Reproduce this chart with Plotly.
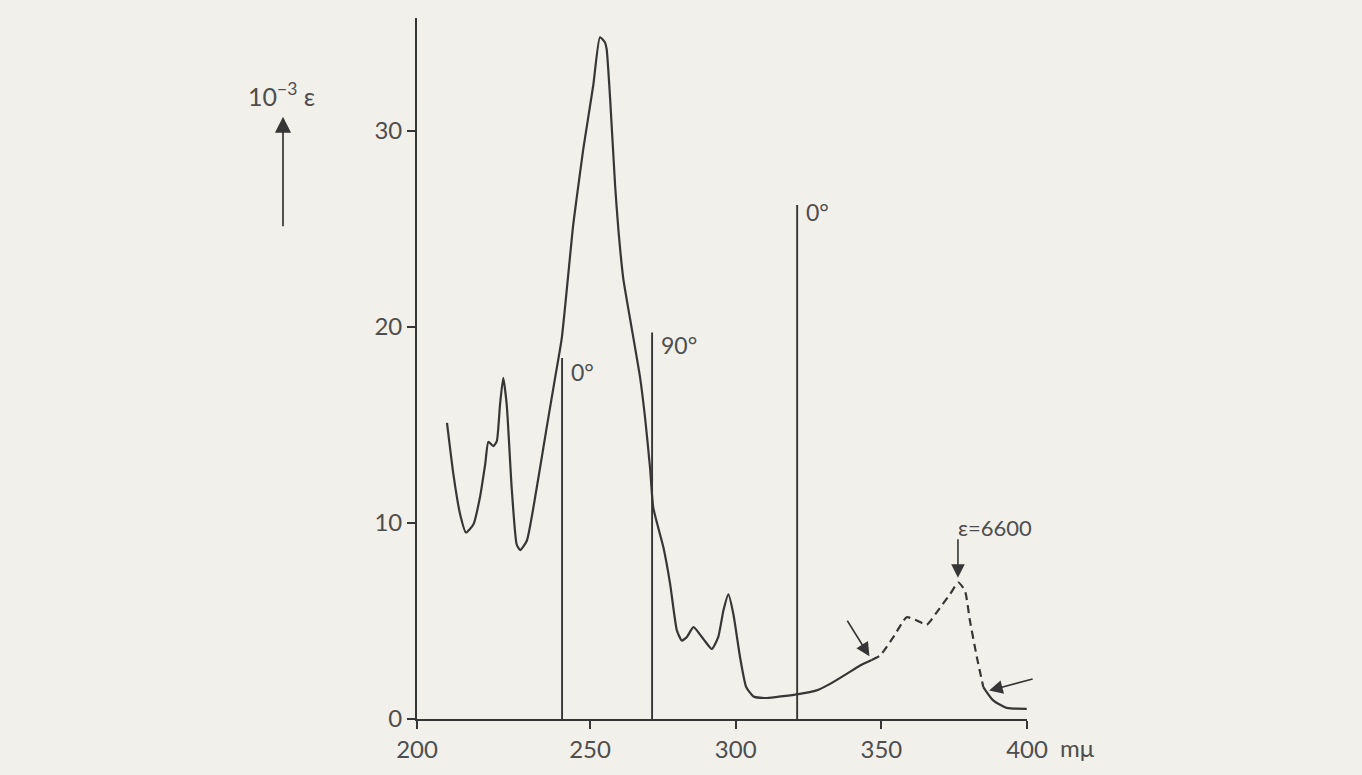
import plotly.graph_objects as go

# ---- data ----
# wavelength in m-mu, epsilon in units of 10^3
wl_main = [200.9, 203.1, 205.4, 207.4, 210.0, 212.2, 214.0, 215.1, 216.8, 218.0,
           219.1, 220.2, 221.4, 223.1, 224.8, 226.0, 228.3, 231.7, 235.1, 238.0,
           240.3, 244.2, 245.4, 247.7, 251.1, 253.4, 255.1, 255.7, 256.9, 258.6,
           259.7, 261.4, 264.3, 267.2, 268.9, 270.6, 271.7, 275.2, 277.5, 279.8,
           281.5, 283.2, 285.5, 288.9, 291.8, 294.0, 295.8, 297.5, 299.2, 301.5,
           303.6, 306.1, 310.7, 316.4, 321.0, 327.8, 332.4, 338.1, 342.7, 346.7]
eps_main = [15.10, 12.47, 10.44, 9.51, 9.93, 11.29, 12.98, 14.13, 13.91, 14.17,
            16.03, 17.39, 16.03, 11.79, 8.91, 8.61, 9.09, 11.79, 14.84, 17.39,
            19.42, 25.17, 26.54, 29.08, 32.30, 34.76, 34.50, 34.16, 31.62, 27.21,
            25.01, 22.47, 19.93, 17.39, 15.35, 12.81, 10.78, 8.74, 6.88, 4.52,
            4.00, 4.17, 4.68, 4.08, 3.57, 4.17, 5.54, 6.35, 5.35, 3.15,
            1.63, 1.15, 1.07, 1.17, 1.26, 1.46, 1.79, 2.30, 2.73, 3.01]

wl_dash = [346.7, 349.6, 354.1, 358.7, 362.2, 365.6, 369.0, 373.6, 376.4, 378.7,
           380.4, 382.8, 385.0]
eps_dash = [3.01, 3.24, 4.17, 5.19, 5.02, 4.81, 5.44, 6.37, 6.96, 6.54,
            5.02, 3.15, 1.63]

wl_tail = [385.0, 388.4, 393.0, 399.9]
eps_tail = [1.63, 0.95, 0.57, 0.52]

# polarisation reference lines
angle_x = [240.4, 271.3, 321.1]
angle_h = [18.4, 19.7, 26.2]
angle_lbl = ["0°", "90°", "0°"]

x_tickvals = [190.6, 250, 300, 350, 400]
x_ticktext = ["200", "250", "300", "350", "400"]
y_tickvals = [0, 10, 20, 30]
y_ticktext = ["0", "10", "20", "30"]

INK = "#363636"
TXT = "#4e4e4e"
BG = "#f2f0ea"
FONT = "Lato"

fig = go.Figure()

fig.add_trace(go.Scatter(x=wl_main, y=eps_main, mode="lines",
                         line=dict(color=INK, width=2.2, shape="spline", smoothing=0.5),
                         hoverinfo="skip", showlegend=False))
fig.add_trace(go.Scatter(x=wl_dash, y=eps_dash, mode="lines",
                         line=dict(color=INK, width=2.2, dash="8px,5px", shape="spline", smoothing=0.5),
                         hoverinfo="skip", showlegend=False))
fig.add_trace(go.Scatter(x=wl_tail, y=eps_tail, mode="lines",
                         line=dict(color=INK, width=2.2, shape="spline", smoothing=0.6),
                         hoverinfo="skip", showlegend=False))

vx, vy = [], []
for x, h in zip(angle_x, angle_h):
    vx += [x, x, None]
    vy += [0, h, None]
fig.add_trace(go.Scatter(x=vx, y=vy, mode="lines", line=dict(color=INK, width=1.9),
                         hoverinfo="skip", showlegend=False))

ann = []
for x, h, t, dy in zip(angle_x, angle_h, angle_lbl, [14, 12, 7]):
    ann.append(dict(x=x, y=h, xref="x", yref="y", text=t, showarrow=False,
                    xanchor="left", yanchor="middle", xshift=7, yshift=-dy,
                    font=dict(family=FONT, size=23, color=TXT)))

# y-axis unit label with arrow
ann.append(dict(x=(283 - 417) / 610, y=(721 - 117) / 703, xref="paper", yref="paper",
                text="", showarrow=True, ax=0, ay=111, arrowhead=2, arrowsize=1.9,
                arrowwidth=1.7, arrowcolor=INK))
ann.append(dict(x=(281 - 417) / 610, y=(721 - 95) / 703, xref="paper", yref="paper",
                text="10<sup>−3</sup> ε", showarrow=False, xanchor="center", yanchor="middle",
                font=dict(family=FONT, size=25, color=TXT)))

# epsilon = 6600 marker
ann.append(dict(x=376.3, y=7.1, xref="x", yref="y", text="", showarrow=True,
                ax=0, ay=-42, arrowhead=2, arrowsize=1.7, arrowwidth=1.6, arrowcolor=INK,
                standoff=2))
ann.append(dict(x=(995 - 417) / 610, y=(721 - 529) / 703, xref="paper", yref="paper",
                text="ε=6600", showarrow=False, xanchor="center", yanchor="middle",
                font=dict(family=FONT, size=22, color=TXT)))

# arrows marking the dashed part
ann.append(dict(x=345.9, y=3.2, xref="x", yref="y", text="", showarrow=True,
                ax=-23, ay=-37, arrowhead=2, arrowsize=1.7, arrowwidth=1.6, arrowcolor=INK))
ann.append(dict(x=387.0, y=1.45, xref="x", yref="y", text="", showarrow=True,
                ax=45, ay=-12, arrowhead=2, arrowsize=1.7, arrowwidth=1.6, arrowcolor=INK))

# unit on x axis
ann.append(dict(x=(1058 - 417) / 610, y=(721 - 750) / 703, xref="paper", yref="paper",
                text="mμ", showarrow=False, xanchor="left", yanchor="middle",
                font=dict(family=FONT, size=24, color=TXT)))

fig.update_layout(
    width=1362, height=775,
    margin=dict(l=417, r=335, t=18, b=54),
    paper_bgcolor=BG, plot_bgcolor=BG,
    font=dict(family=FONT, size=24, color=TXT),
    annotations=ann,
    showlegend=False,
)
fig.update_xaxes(range=[190.6, 400], showgrid=False, zeroline=False,
                 showline=True, linecolor=INK, linewidth=1.9,
                 tickmode="array", tickvals=x_tickvals, ticktext=x_ticktext,
                 ticks="outside", ticklen=8, tickwidth=1.7, tickcolor=INK,
                 tickfont=dict(family=FONT, size=24, color=TXT))
fig.update_yaxes(range=[0, 35.74], showgrid=False, zeroline=False,
                 showline=True, linecolor=INK, linewidth=1.9,
                 tickmode="array", tickvals=y_tickvals, ticktext=y_ticktext,
                 ticks="outside", ticklen=8, tickwidth=1.7, tickcolor=INK,
                 tickfont=dict(family=FONT, size=24, color=TXT))

fig.write_html("out.html")
